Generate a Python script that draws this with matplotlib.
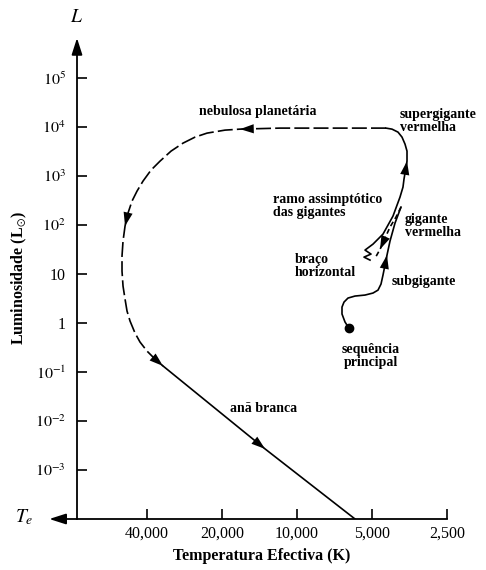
import matplotlib.pyplot as plt

plt.rcParams['font.family'] = 'Liberation Serif'
plt.rcParams['mathtext.fontset'] = 'stix'

# main sequence -> subgiant -> red giant tip (K, L_sun)
ms_T = [6190, 6417, 6598, 6598, 6477, 6242, 5851, 5334, 4954, 4730, 4601, 4517,
        4434, 4353, 4234, 4042, 3825]
ms_L = [0.79, 1.05, 1.53, 2.12, 2.68, 3.24, 3.56, 3.73, 4.10, 4.71, 6.25, 9.55,
        15.3, 24.4, 47.1, 110, 233]

# helium flash: drop from the giant tip to the horizontal branch
flash_T = [3825, 4005, 4234, 4434, 4643, 4863]
flash_L = [233, 146, 91, 54, 32, 21]

# horizontal branch squiggle and asymptotic giant branch
agb_T = [5093, 5384, 5046, 5334, 4954, 4517, 4313, 4118, 3860, 3755, 3720, 3618,
         3618, 3685, 3789, 3932, 4156, 4393]
agb_L = [19.3, 22.2, 25.6, 30.9, 40.9, 65.5, 100, 153, 373, 597, 869, 2023,
         3236, 4498, 6250, 7907, 9100, 9550]

# planetary nebula phase
pn_T = [4393, 7371, 11700, 16935, 19450, 22974, 25670, 28680, 32040, 35470, 38550,
        41510, 43870, 45950, 47680, 49010, 49930, 50400, 50400, 49930, 49010, 48120,
        46800, 44690, 42680, 40000, 37150, 34500]
pn_L = [9550, 9550, 9550, 9100, 8690, 7545, 6250, 4713, 3236, 2023, 1325,
        791, 494, 309, 176, 95.4, 47.1, 23.3, 11.5, 5.69, 3.09, 1.76,
        1.10, 0.625, 0.41, 0.268, 0.184, 0.133]

# white dwarf cooling track
wd_T = [34500, 13440, 5850]
wd_L = [0.133, 0.0027, 1e-4]

y_ticks = [1e5, 1e4, 1e3, 1e2, 10, 1, 1e-1, 1e-2, 1e-3]
y_labels = ['$10^5$', '$10^4$', '$10^3$', '$10^2$', '10', '1', '$10^{-1}$', '$10^{-2}$', '$10^{-3}$']
x_ticks = [40000, 20000, 10000, 5000, 2500]
x_labels = ['40,000', '20,000', '10,000', '5,000', '2,500']

fig = plt.figure(figsize=(4.86, 5.7), dpi=100)
ax = fig.add_axes([77 / 486, 1 - 519 / 570, 370 / 486, 481 / 570])
ax.set_xscale('log')
ax.set_yscale('log')
ax.set_xlim(76400, 2500)
ax.set_ylim(1e-4, 6.6e5)
ax.minorticks_off()

for s in ['top', 'right', 'left']:
    ax.spines[s].set_visible(False)
ax.spines['bottom'].set_linewidth(1.3)

ax.set_yticks(y_ticks)
ax.set_yticklabels(y_labels)
ax.set_xticks(x_ticks)
ax.set_xticklabels(x_labels)
ax.tick_params(axis='both', direction='in', length=7, width=1.2, labelsize=11.5)
ax.tick_params(axis='y', pad=8)
ax.tick_params(axis='x', pad=5)

# axis arrows
axis_arrow = dict(arrowstyle='-|>,head_length=1.0,head_width=0.32',
                  color='k', lw=1.3, shrinkA=0, shrinkB=0, mutation_scale=10)
ax.annotate('', xy=(0, 1), xytext=(0, 0), xycoords='axes fraction',
            arrowprops=axis_arrow, annotation_clip=False)
ax.annotate('', xy=(-0.075, 0), xytext=(0, 0), xycoords='axes fraction',
            arrowprops=axis_arrow, annotation_clip=False)
fig.text(77 / 486, 1 - 18 / 570, '$L$', fontsize=14, ha='center', va='center')
fig.text(24 / 486, 1 - 517 / 570, '$T_e$', fontsize=14, ha='center', va='center')

ax.set_xlabel('Temperatura Efectiva (K)', fontsize=11.5, fontweight='bold', labelpad=4)
ax.set_ylabel(r'Luminosidade (L$_{\odot}$)', fontsize=11.5, fontweight='bold', labelpad=4)

lw = 1.2
ax.plot(ms_T, ms_L, color='k', lw=lw)
ax.plot(flash_T, flash_L, color='k', lw=lw, linestyle=(0, (3, 2)))
ax.plot(agb_T, agb_L, color='k', lw=lw)
ax.plot(pn_T, pn_L, color='k', lw=lw, linestyle=(0, (9, 2.5)))
ax.plot(wd_T, wd_L, color='k', lw=lw)
ax.plot(ms_T[0], ms_L[0], 'o', color='k', ms=6)


def arrow_on(Ts, Ls, i):
    ax.annotate('', xy=(Ts[i], Ls[i]), xytext=(Ts[i - 1], Ls[i - 1]),
                arrowprops=dict(arrowstyle='-|>,head_length=0.9,head_width=0.3',
                                color='k', lw=0, shrinkA=0, shrinkB=0, mutation_scale=11))


arrow_on(ms_T, ms_L, 13)
arrow_on(flash_T, flash_L, 4)
arrow_on(agb_T, agb_L, 11)
arrow_on(pn_T, pn_L, 3)
arrow_on(pn_T, pn_L, 15)
arrow_on(pn_T, pn_L, 27)
arrow_on(wd_T, wd_L, 1)

lab = dict(fontsize=10, fontweight='bold', va='center', linespacing=1.05)
ax.text(14340, 21200, 'nebulosa planetária', ha='center', **lab)
ax.text(3860, 13250, 'supergigante\nvermelha', ha='left', **lab)
ax.text(12480, 244, 'ramo assimptótico\ndas gigantes', ha='left', **lab)
ax.text(3685, 95, 'gigante\nvermelha', ha='left', **lab)
ax.text(10190, 14.6, 'braço\nhorizontal', ha='left', **lab)
ax.text(4156, 7.2, 'subgigante', ha='left', **lab)
ax.text(5046, 0.212, 'sequência\nprincipal', ha='center', **lab)
ax.text(18570, 0.0184, 'anã branca', ha='left', **lab)

fig.savefig('out.png', dpi=100)
